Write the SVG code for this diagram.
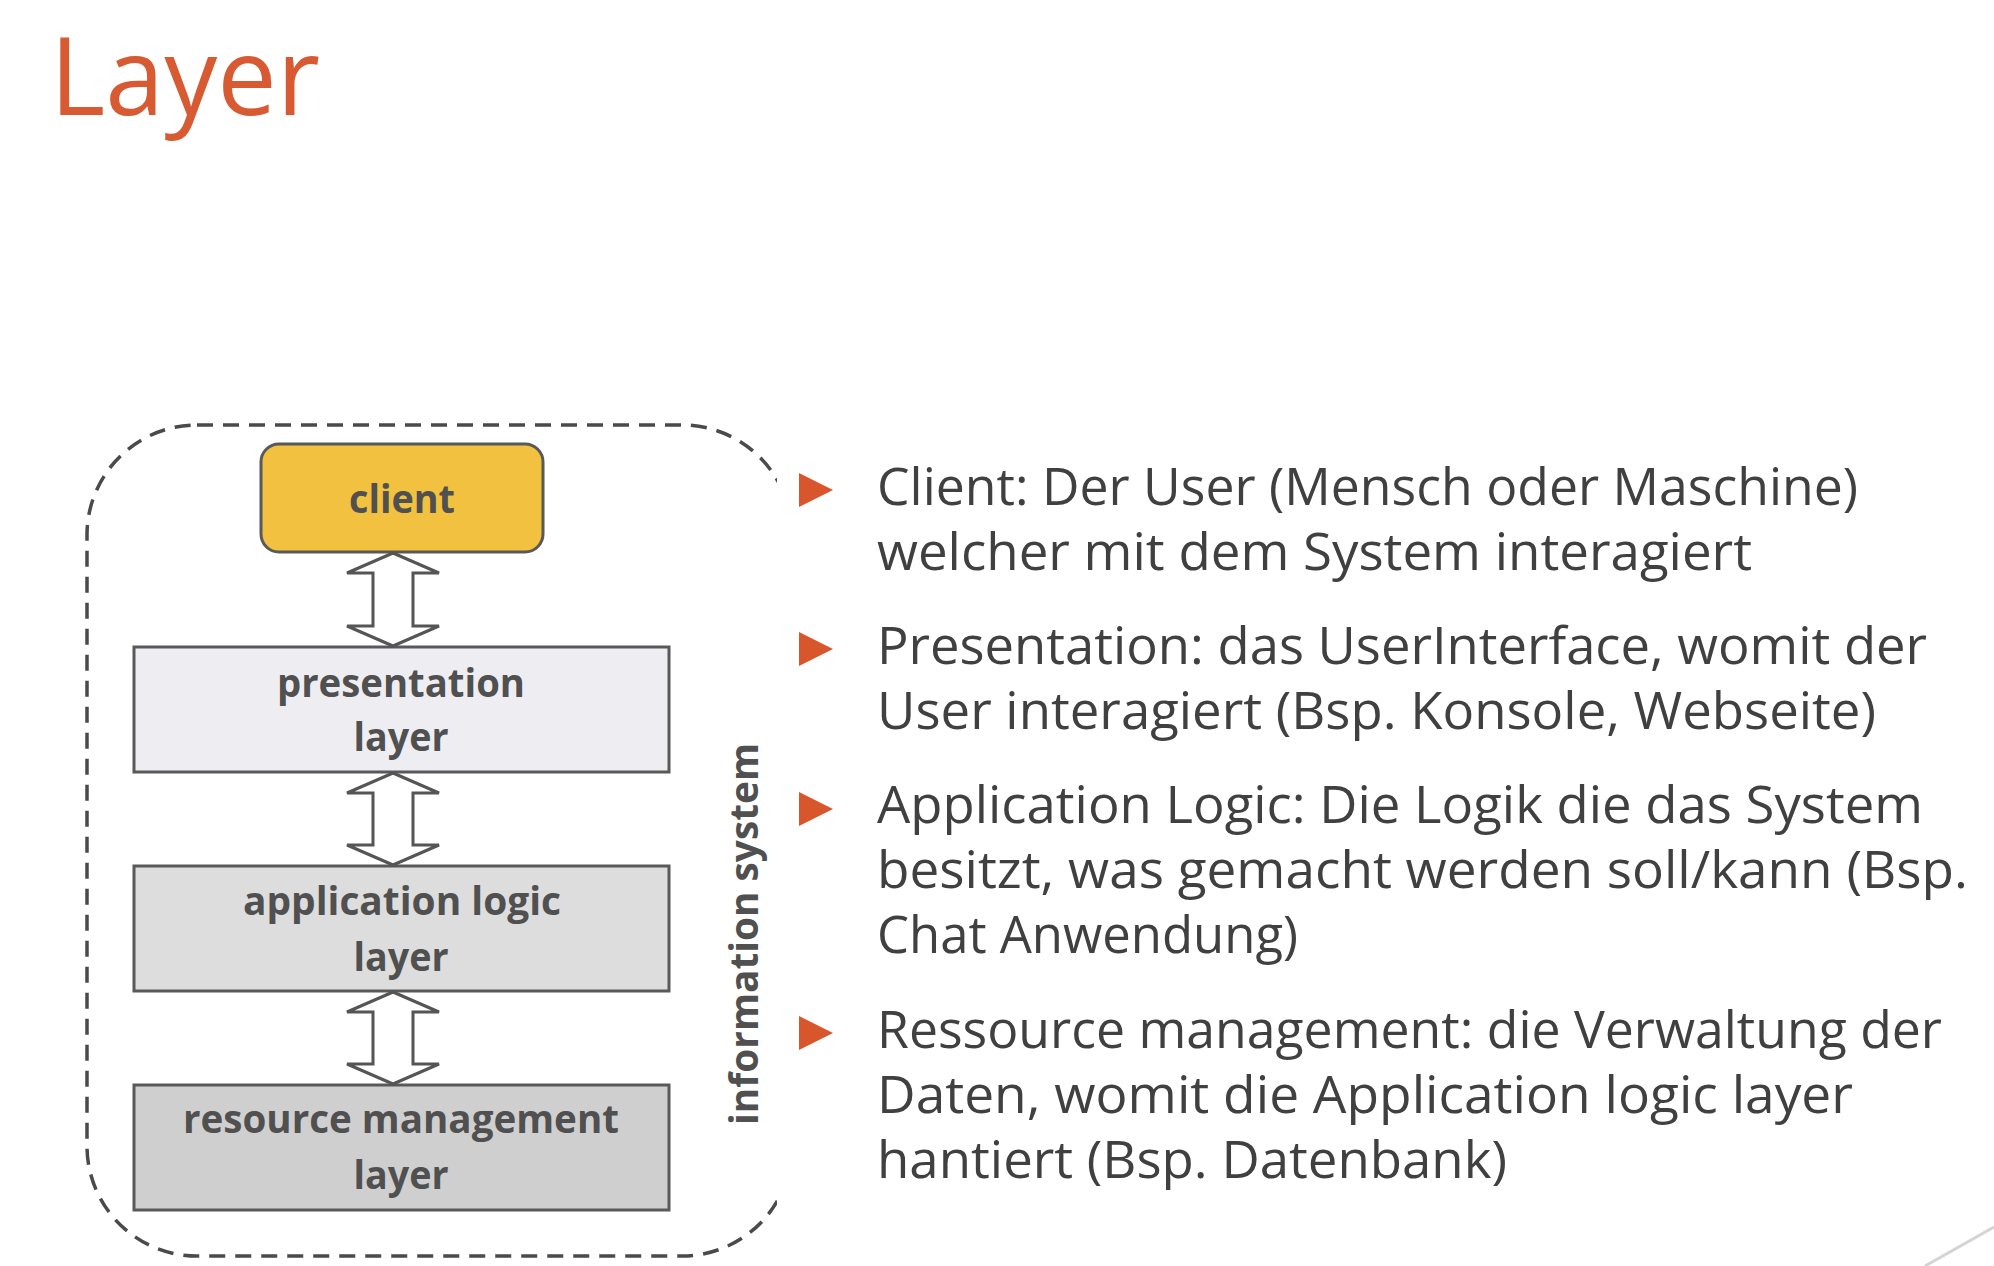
<svg xmlns="http://www.w3.org/2000/svg" width="1994" height="1266" viewBox="0 0 1994 1266">
<defs>
<style>
.title{font-family:"Open Sans","Liberation Sans",sans-serif;font-size:108px;fill:#D75A33}
.body{font-family:"Open Sans","Liberation Sans",sans-serif;font-size:51px;fill:#404040}
.lbl{font-family:"Open Sans","Liberation Sans",sans-serif;font-size:40px;font-weight:700;fill:#505050;text-anchor:middle}
.box{stroke:#595959;stroke-width:3}
.arr{fill:#FFFFFF;stroke:#555555;stroke-width:3;stroke-linejoin:miter}
.bul{fill:#D9552C}
</style>
<clipPath id="leftclip"><rect x="0" y="0" width="777" height="1266"/></clipPath>
</defs>
<rect x="0" y="0" width="1994" height="1266" fill="#FFFFFF"/>
<g id="title"><text class="title" x="50" y="115" textLength="270" lengthAdjust="spacingAndGlyphs">Layer</text></g>
<g id="information-system">
<rect x="87" y="425" width="705" height="831" rx="110" ry="110" fill="none" stroke="#4A4A4A" stroke-width="3.5" stroke-dasharray="16 10" clip-path="url(#leftclip)"/>
<text class="lbl" transform="translate(758,934) rotate(-90)" x="0" y="0" font-size="46" textLength="382" lengthAdjust="spacingAndGlyphs">information system</text>
</g>
<g id="client">
<rect class="box" x="261" y="444" width="282" height="108" rx="18" ry="18" fill="#F2C13F"/>
<text class="lbl" x="402" y="513" textLength="106" lengthAdjust="spacingAndGlyphs">client</text>
</g>
<g id="presentation-layer">
<rect class="box" x="134" y="647" width="535" height="125" fill="#EEEEF2"/>
<text class="lbl" x="401" y="697" textLength="248" lengthAdjust="spacingAndGlyphs">presentation</text>
<text class="lbl" x="401" y="751" textLength="95" lengthAdjust="spacingAndGlyphs">layer</text>
</g>
<g id="application-logic-layer">
<rect class="box" x="134" y="866" width="535" height="125" fill="#DDDDDD"/>
<text class="lbl" x="402" y="915" textLength="318" lengthAdjust="spacingAndGlyphs">application logic</text>
<text class="lbl" x="401" y="971" textLength="95" lengthAdjust="spacingAndGlyphs">layer</text>
</g>
<g id="resource-management-layer">
<rect class="box" x="134" y="1085" width="535" height="125" fill="#CFCFCF"/>
<text class="lbl" x="401" y="1133" textLength="436" lengthAdjust="spacingAndGlyphs">resource management</text>
<text class="lbl" x="401" y="1189" textLength="95" lengthAdjust="spacingAndGlyphs">layer</text>
</g>
<g id="connectors">
<polygon class="arr" points="393,553 439,573 413,573 413,626 439,626 393,646 347,626 373,626 373,573 347,573"/>
<polygon class="arr" points="393,773 439,793 413,793 413,845 439,845 393,865 347,845 373,845 373,793 347,793"/>
<polygon class="arr" points="393,992 439,1012 413,1012 413,1064 439,1064 393,1084 347,1064 373,1064 373,1012 347,1012"/>
</g>
<g id="bullet-client">
<polygon class="bul" points="799,473 833,490 799,507"/>
<text class="body" x="877" y="505" textLength="981" lengthAdjust="spacingAndGlyphs">Client: Der User (Mensch oder Maschine)</text>
<text class="body" x="877" y="570" textLength="875" lengthAdjust="spacingAndGlyphs">welcher mit dem System interagiert</text>
</g>
<g id="bullet-presentation">
<polygon class="bul" points="799,632 833,649 799,666"/>
<text class="body" x="877" y="664" textLength="1050" lengthAdjust="spacingAndGlyphs">Presentation: das UserInterface, womit der</text>
<text class="body" x="877" y="729" textLength="999" lengthAdjust="spacingAndGlyphs">User interagiert (Bsp. Konsole, Webseite)</text>
</g>
<g id="bullet-application">
<polygon class="bul" points="799,792 833,809 799,826"/>
<text class="body" x="877" y="823" textLength="1046" lengthAdjust="spacingAndGlyphs">Application Logic: Die Logik die das System</text>
<text class="body" x="877" y="888" textLength="1091" lengthAdjust="spacingAndGlyphs">besitzt, was gemacht werden soll/kann (Bsp.</text>
<text class="body" x="877" y="953" textLength="421" lengthAdjust="spacingAndGlyphs">Chat Anwendung)</text>
</g>
<g id="bullet-resource">
<polygon class="bul" points="799,1016 833,1033 799,1050"/>
<text class="body" x="877" y="1048" textLength="1065" lengthAdjust="spacingAndGlyphs">Ressource management: die Verwaltung der</text>
<text class="body" x="877" y="1113" textLength="976" lengthAdjust="spacingAndGlyphs">Daten, womit die Application logic layer</text>
<text class="body" x="877" y="1178" textLength="630" lengthAdjust="spacingAndGlyphs">hantiert (Bsp. Datenbank)</text>
</g>
<line x1="1925" y1="1266" x2="1994" y2="1227" stroke="#D4D4D4" stroke-width="3"/>
</svg>
